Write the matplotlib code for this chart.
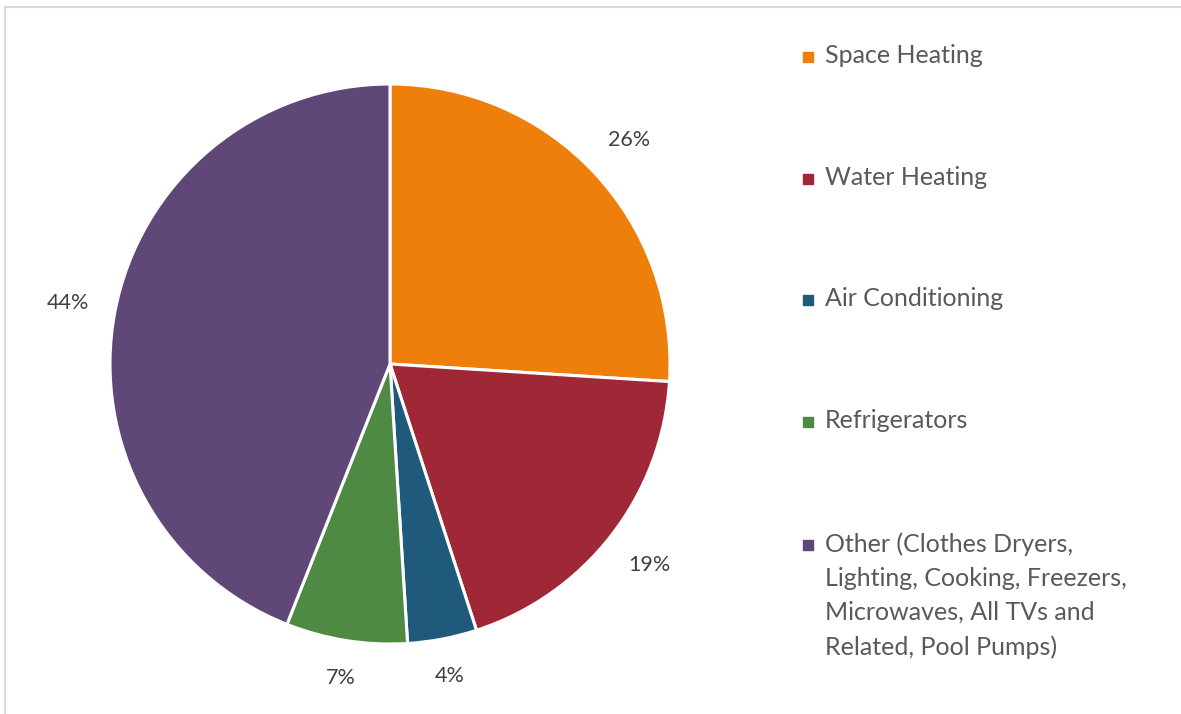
import matplotlib
matplotlib.use("Agg")
import numpy as np
import matplotlib.pyplot as plt
from matplotlib.patches import Rectangle
from matplotlib.lines import Line2D

categories = ["Space Heating", "Water Heating", "Air Conditioning", "Refrigerators",
              "Other (Clothes Dryers,\nLighting, Cooking, Freezers,\nMicrowaves, All TVs and\nRelated, Pool Pumps)"]
shares = [26, 19, 4, 7, 44]
colors = ["#EE7F0A", "#A02735", "#1F5A7C", "#4E8A43", "#5F4878"]

plt.rcParams["font.family"] = ["Lato", "DejaVu Sans"]

W, H = 1181, 714
fig = plt.figure(figsize=(W / 100, H / 100), dpi=100)

# chart area border (only top/left visible in the original crop)
fig.add_artist(Rectangle((5 / W, -0.1), 1.2, (714 - 7) / H + 0.1, transform=fig.transFigure,
                         fill=False, edgecolor="#D9D9D9", linewidth=1.5))

cx, cy, r = 390, 364, 280
ax = fig.add_axes([(cx - r) / W, (H - cy - r) / H, 2 * r / W, 2 * r / H])
wedges, texts, autotexts = ax.pie(
    shares, colors=colors, startangle=90, counterclock=False,
    autopct="%d%%", pctdistance=1.145, radius=1,
    wedgeprops=dict(edgecolor="white", linewidth=2.2),
    textprops=dict(color="#404040", fontsize=15.5))
ax.set_xlim(-1, 1)
ax.set_ylim(-1, 1)
ax.set_aspect("auto")
ax.axis("off")

# push labels out so the text box edge (not its centre) sits just outside the pie
fig.canvas.draw()
for w, t in zip(wedges, autotexts):
    ang = np.deg2rad((w.theta1 + w.theta2) / 2)
    bb = t.get_window_extent()
    hw, hh = bb.width / 2 / r, bb.height / 2 / r
    d = 1.09 + hw * abs(np.cos(ang)) + hh * abs(np.sin(ang))
    t.set_position((d * np.cos(ang), d * np.sin(ang)))

# legend, drawn by hand so the marker sits on the first line
leg_y = [57, 179, 300, 422, 545]
for lab, col, y in zip(categories, colors, leg_y):
    fig.add_artist(Line2D([808 / W], [1 - y / H], marker="s", markersize=7,
                          color=col, transform=fig.transFigure))
    fig.text(825 / W, 1 - (y - 13) / H, lab, color="#595959", fontsize=18,
             va="top", ha="left", linespacing=1.58)

fig.savefig("out.png", dpi=100)
